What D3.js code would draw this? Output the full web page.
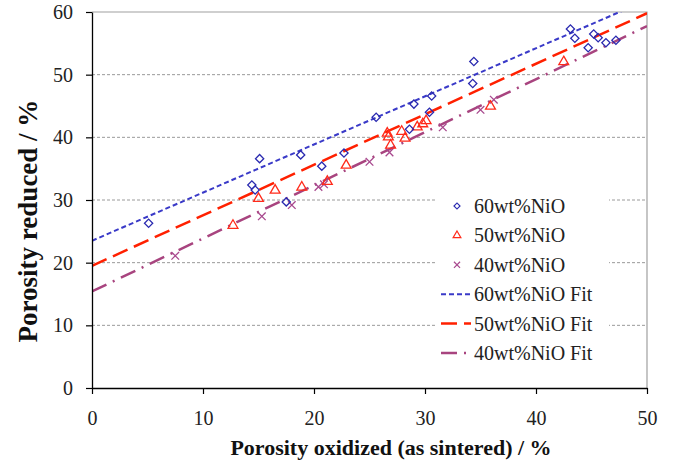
<!DOCTYPE html>
<html><head><meta charset="utf-8">
<script src="https://cdn.jsdelivr.net/npm/d3@7"></script>
<style>body{margin:0;background:#fff}svg{display:block}</style>
</head><body><svg id="c" width="675" height="460"></svg>
<script>
const xTicks = [0, 10, 20, 30, 40, 50];
const yTicks = [0, 10, 20, 30, 40, 50, 60];
const seriesNames = ["60wt%NiO", "50wt%NiO", "40wt%NiO"];
const fitNames = ["60wt%NiO Fit", "50wt%NiO Fit", "40wt%NiO Fit"];
const xTitle = "Porosity oxidized (as sintered) / %";
const yTitle = "Porosity reduced / %";

const ni60x = [5.1, 14.4, 14.7, 15.1, 17.5, 18.8, 20.7, 22.7, 25.6, 28.6, 29.0, 30.4, 30.6, 34.3, 34.4, 43.1, 43.5, 44.7, 45.2, 45.6, 46.3, 47.2];
const ni60y = [26.3, 32.4, 31.6, 36.6, 29.7, 37.2, 35.4, 37.5, 43.2, 41.3, 45.3, 44.0, 46.6, 48.6, 52.1, 57.3, 55.8, 54.3, 56.5, 55.9, 55.1, 55.5];
const ni50x = [12.7, 15.0, 16.5, 18.9, 21.2, 22.9, 26.6, 26.7, 26.9, 27.9, 28.2, 29.3, 29.8, 30.1, 35.9, 42.5];
const ni50y = [26.1, 30.4, 31.7, 32.2, 33.1, 35.7, 40.8, 40.2, 38.9, 41.1, 40.0, 41.8, 42.3, 42.8, 45.1, 52.2];
const ni40x = [7.5, 15.3, 18.0, 20.4, 20.9, 25.0, 26.8, 31.6, 35.0, 36.2];
const ni40y = [21.1, 27.4, 29.2, 32.1, 32.5, 36.1, 37.6, 41.6, 44.4, 46.0];
const fitIntercept = [23.5, 19.5, 15.4];
const fitSlope = [0.768, 0.806, 0.847];

const markerColors = ["#2a2ab0", "#ff2a1a", "#a8488e"];
const lineColors = ["#3a3ac8", "#ff2000", "#a8447f"];
const dashes = ["5,3", "16,7", "16,7,2,7"];
const lineWidths = [2, 2.5, 2.5];

const svg = d3.select("#c");
const L = 92, R = 647, T = 12, B = 388;
const x = d3.scaleLinear().domain([0, 50]).range([L, R]);
const y = d3.scaleLinear().domain([0, 60]).range([B, T]);

// grid
svg.append("g").selectAll("line").data(yTicks.filter(d => d > 0 && d < 60)).join("line")
  .attr("x1", L).attr("x2", R).attr("y1", d => y(d)).attr("y2", d => y(d))
  .attr("stroke", "#9a9a9a").attr("stroke-width", 1).attr("stroke-dasharray", "3,2");

// frame top/right
svg.append("path").attr("d", `M${L},${T}H${R}V${B}`).attr("fill", "none").attr("stroke", "#a0a0a0").attr("stroke-width", 1.2);

svg.append("defs").append("clipPath").attr("id", "clip").append("rect")
  .attr("x", L).attr("y", T).attr("width", R - L).attr("height", B - T);

// fit lines
const fits = svg.append("g").attr("clip-path", "url(#clip)");
fitIntercept.forEach((b, i) => {
  const line = d3.line().x(d => x(d)).y(d => y(b + fitSlope[i] * d));
  fits.append("path").attr("d", line([0, 50])).attr("fill", "none")
    .attr("stroke", lineColors[i]).attr("stroke-width", lineWidths[i]).attr("stroke-dasharray", dashes[i]);
});

// markers
const diamond = d3.symbol().type(d3.symbolSquare).size(34);
const tri = d3.symbol().type(d3.symbolTriangle).size(42);
const times = d3.symbol().type(d3.symbolTimes || d3.symbolX).size(40);
const shapes = [diamond, tri, times];
const rot = [45, 0, 0];
const sets = [[ni60x, ni60y], [ni50x, ni50y], [ni40x, ni40y]];
const mg = svg.append("g");
[2, 1, 0].forEach(i => {
  const [xs, ys] = sets[i];
  mg.append("g").selectAll("path").data(xs.map((v, k) => [v, ys[k]])).join("path")
    .attr("d", shapes[i]())
    .attr("transform", d => `translate(${x(d[0])},${y(d[1]) + (i === 1 ? 1 : 0)}) rotate(${rot[i]})`)
    .attr("fill", "none").attr("stroke", markerColors[i]).attr("stroke-width", 1.3);
});

// axes
const fontTick = "'Liberation Serif', 'Times New Roman', serif";
const xa = svg.append("g").attr("transform", `translate(0,${B})`)
  .call(d3.axisBottom(x).tickValues(xTicks).tickSize(6).tickPadding(17).tickSizeOuter(0));
const ya = svg.append("g").attr("transform", `translate(${L},0)`)
  .call(d3.axisLeft(y).tickValues(yTicks).tickSize(6).tickPadding(13).tickSizeOuter(0));
[xa, ya].forEach(a => {
  a.selectAll("path.domain").attr("stroke", "#000").attr("stroke-width", 1.3);
  a.selectAll(".tick line").attr("stroke", "#000").attr("stroke-width", 1.2);
  a.selectAll("text").attr("font-family", fontTick).attr("font-size", 20).attr("fill", "#222");
});

svg.append("text").attr("x", 391).attr("y", 455).attr("text-anchor", "middle")
  .attr("font-family", fontTick).attr("font-weight", "bold").attr("font-size", 22).attr("fill", "#111").text(xTitle);
svg.append("text").attr("transform", "translate(37,221) rotate(-90)").attr("text-anchor", "middle")
  .attr("font-family", fontTick).attr("font-weight", "bold").attr("font-size", 27).attr("fill", "#111").text(yTitle);

// legend
const lg = svg.append("g");
lg.append("rect").attr("x", 435).attr("y", 190).attr("width", 174).attr("height", 180).attr("fill", "#fff");
const rowY = d3.range(6).map(k => 206 + k * 29.4);
[0, 1, 2].forEach(i => {
  lg.append("path").attr("d", d3.symbol().type(i === 0 ? d3.symbolSquare : (i === 1 ? d3.symbolTriangle : (d3.symbolTimes || d3.symbolX))).size(i === 0 ? 18 : 26)())
    .attr("transform", `translate(457,${rowY[i]}) rotate(${rot[i]})`)
    .attr("fill", "none").attr("stroke", markerColors[i]).attr("stroke-width", 1.2);
  lg.append("text").attr("x", 474).attr("y", rowY[i] + 7).attr("font-family", fontTick).attr("font-size", 20).attr("fill", "#222").text(seriesNames[i]);
  lg.append("line").attr("x1", 441).attr("x2", 471).attr("y1", rowY[i + 3]).attr("y2", rowY[i + 3])
    .attr("stroke", lineColors[i]).attr("stroke-width", lineWidths[i]).attr("stroke-dasharray", dashes[i]);
  lg.append("text").attr("x", 474).attr("y", rowY[i + 3] + 7).attr("font-family", fontTick).attr("font-size", 20).attr("fill", "#222").text(fitNames[i]);
});
</script></body></html>
